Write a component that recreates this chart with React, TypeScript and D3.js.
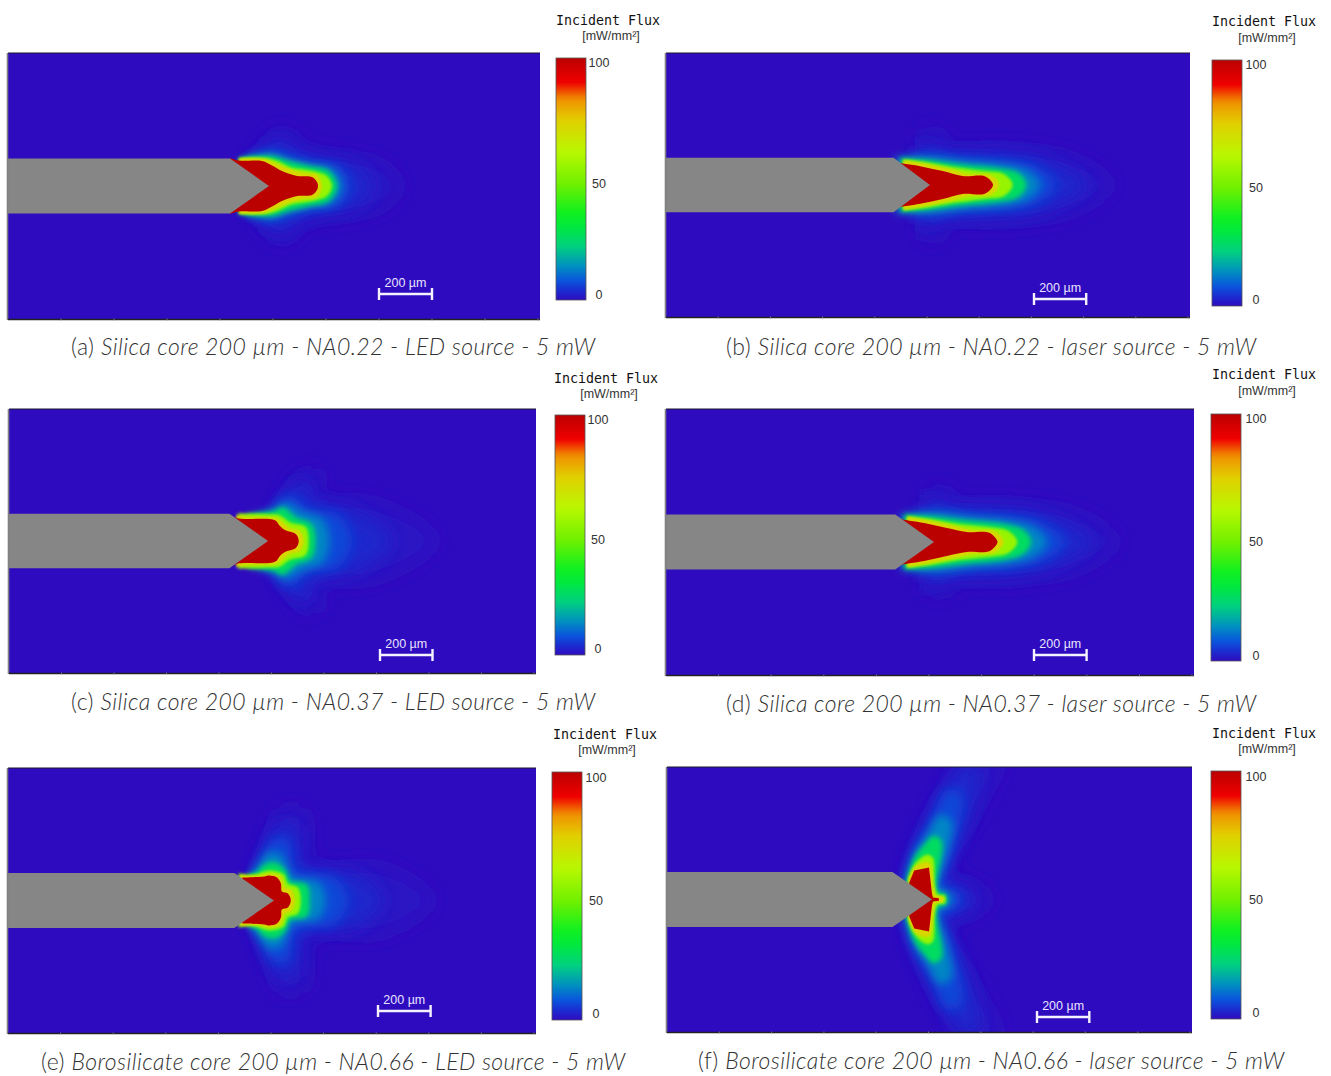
import React from "react";
import * as d3 from "d3";

type Pt = [number, number];

// Flux scale of the colour bar (mW/mm²)
const fluxStops = [0, 4, 8, 14, 22, 30, 36, 48, 61, 74, 83, 90, 100];
const fluxColors = ["#2f0bbf", "#1a2dd0", "#0a55dc", "#0090c0", "#00d080", "#00e840", "#10f020", "#70f000", "#b8f800", "#e0d000", "#f09000", "#f00000", "#bb0000"];
const tickValues = [0, 50, 100];
const fluxLevels = [1.2, 3, 6.5, 13, 26, 55, 72, 100];
const levelBlur = [11, 9, 6, 4, 2.5, 1.8, 1.2, 0.5];

// Iso-flux half outlines, [cells from fibre tip, cells from axis]; order follows fluxLevels
const contoursA: Pt[][] = [
  [[-18, 28], [0, 48], [8, 56], [18, 57], [34, 39], [81, 30], [118, 19], [131, 0]],
  [[-18, 28], [0, 40], [4, 46], [14, 46], [31, 32], [64, 25], [91, 19], [104, 0]],
  [[-19, 28], [3, 35], [18, 30], [44, 24], [71, 19], [81, 0]],
  [[-25, 28], [3, 32], [18, 27], [41, 21], [63, 17], [73, 0]],
  [[-30, 28], [3, 30], [18, 25.5], [41, 20], [60, 15], [68, 0]],
  [[-30, 28], [-2, 28], [11, 24], [21, 19], [44, 15], [58, 10], [63, 0]],
  [[-30, 27.5], [-5, 27], [8, 22], [20, 17], [35, 13], [48, 11], [53, 0]],
  [[-39, 28], [-30, 25.5], [-7, 25], [3, 20.5], [13, 15], [28, 10], [43, 9], [48, 4], [49, 0]],
];
const contoursB: Pt[][] = [
  [[-8, 55], [5, 58], [20, 38], [60, 38], [110, 35], [150, 25], [185, 0]],
  [[-12, 38], [0, 42], [10, 34], [50, 33], [100, 30], [130, 20], [160, 0]],
  [[-20, 30], [5, 30], [40, 27], [85, 24], [110, 18], [128, 0]],
  [[-35, 28], [0, 28], [35, 24], [78, 20], [100, 14], [112, 0]],
  [[-30, 27], [0, 25], [30, 21], [70, 17], [90, 12], [98, 0]],
  [[-27, 26], [-3, 23], [25, 18], [55, 14], [75, 11], [84, 0]],
  [[-27, 25], [-3, 21], [20, 16], [40, 11], [60, 10.5], [68, 5], [70, 0]],
  [[-37, 27], [-35, 24], [-10, 19], [13, 14], [33, 9], [55, 9], [62, 4], [64, 0]],
];
const contoursC: Pt[][] = [
  [[10, 38], [35, 70], [50, 72], [55, 45], [110, 38], [170, 0]],
  [[8, 35], [25, 55], [38, 62], [45, 40], [90, 30], [125, 0]],
  [[5, 32], [15, 44], [25, 45], [40, 32], [70, 27], [85, 0]],
  [[-10, 28], [8, 33], [18, 38], [35, 29], [55, 22], [62, 0]],
  [[-20, 28], [5, 30], [15, 34], [28, 24], [44, 17], [48, 0]],
  [[-30, 28], [0, 27], [12, 26], [22, 19], [38, 14], [41, 0]],
  [[-32, 27], [-27, 25], [-5, 24], [9, 23], [17, 17], [22, 13], [32, 10], [36, 0]],
  [[-39, 27], [-31, 23], [7, 21], [12, 15], [17, 11], [28, 7], [31, 0]],
];
const contoursD: Pt[][] = [
  [[-8, 52], [8, 55], [22, 40], [60, 40], [110, 36], [150, 26], [185, 0]],
  [[-10, 40], [5, 42], [12, 36], [50, 34], [100, 30], [130, 20], [160, 0]],
  [[-18, 30], [8, 31], [40, 28], [85, 25], [112, 18], [132, 0]],
  [[-33, 28], [0, 29], [35, 25], [78, 21], [102, 14], [114, 0]],
  [[-30, 27], [0, 25.5], [30, 22], [70, 18], [90, 12], [98, 0]],
  [[-27, 26], [-3, 23], [25, 18], [55, 15], [75, 11], [84, 0]],
  [[-27, 25], [-3, 21], [20, 16], [40, 12], [60, 11], [68, 5], [70, 0]],
  [[-39, 27], [-36, 24], [-10, 19], [13, 14], [33, 10], [55, 9.5], [62, 4], [64, 0]],
];
const contoursE: Pt[][] = [
  [[-20, 30], [-5, 65], [5, 90], [30, 90], [40, 38], [110, 33], [160, 0]],
  [[-20, 28], [-8, 55], [2, 75], [22, 75], [30, 32], [80, 28], [110, 0]],
  [[-20, 28], [-12, 42], [-3, 60], [14, 60], [22, 30], [60, 24], [75, 0]],
  [[-22, 28], [-14, 38], [-6, 48], [8, 45], [18, 24], [45, 18], [52, 0]],
  [[-25, 27], [-18, 28], [-10, 36], [2, 38], [12, 30], [16, 20], [33, 16], [36, 0]],
  [[-36, 27], [-20, 26], [-5, 30], [10, 26], [14, 17], [24, 13], [27, 0]],
  [[-34, 25], [-15, 25], [-3, 27], [7, 24], [11, 13], [17, 11], [21, 0]],
  [[-32, 23], [-10, 24], [-5, 25], [3, 23], [7, 17], [8, 9], [14, 7], [17, 0]],
];
const contoursF: Pt[][] = [
  [[-28, 20], [-16, 55], [10, 110], [45, 145], [70, 145], [45, 85], [14, 25], [45, 15], [60, 0]],
  [[-27, 20], [-17, 52], [5, 95], [30, 135], [48, 130], [32, 65], [12, 20], [35, 12], [42, 0]],
  [[-27, 18], [-18, 48], [0, 80], [15, 110], [30, 105], [21, 50], [9, 15], [25, 8], [30, 0]],
  [[-26, 18], [-18, 45], [-5, 65], [8, 85], [20, 78], [12, 35], [6, 12], [18, 6], [20, 0]],
  [[-26, 18], [-18, 42], [-8, 55], [2, 64], [10, 58], [5, 20], [5, 9], [14, 5], [15, 0]],
  [[-24, 20], [-18, 35], [-5, 45], [1, 42], [3, 15], [6, 5], [13, 4], [14, 0]],
  [[-24, 20], [-17, 33], [-3, 37], [2, 10], [4, 4], [10, 3], [12, 0]],
  [[-23, 17], [-18, 29], [-3, 32], [0, 6], [1, 2], [7, 1.3], [7, 0]],
];

const panelContours = [contoursA, contoursB, contoursC, contoursD, contoursE, contoursF];
const panelTips = [261, 268, 261.5, 270, 268, 268.5];
const panelShoulders = [39, 37, 39, 39, 40, 40];
const fibreHalfWidth = 27.5;
const scaleBarCells = 53;
const captionLabels = ["(a)", "(b)", "(c)", "(d)", "(e)", "(f)"];
const captionTexts = [
  "Silica core 200 µm - NA0.22 - LED source - 5 mW",
  "Silica core 200 µm - NA0.22 - laser source - 5 mW",
  "Silica core 200 µm - NA0.37 - LED source - 5 mW",
  "Silica core 200 µm - NA0.37 - laser source - 5 mW",
  "Borosilicate core 200 µm - NA0.66 - LED source - 5 mW",
  "Borosilicate core 200 µm - NA0.66 - laser source - 5 mW",
];

// Layout (pixels)
const layout = [
  { x0: 8, x1: 540, y0: 53, y1: 319, bar: [556, 586, 58, 300], title: [608, 25], unit: [611, 40], ticks: [294, 183, 62], tickX: 599, sb: [379, 294], cap: [333, 355, 595] },
  { x0: 666, x1: 1190, y0: 53, y1: 317, bar: [1212, 1242, 60, 306], title: [1264, 26], unit: [1267, 42], ticks: [299, 187, 64], tickX: 1256, sb: [1034, 299], cap: [991, 355, 1256] },
  { x0: 9, x1: 536, y0: 409, y1: 673, bar: [555, 585, 415, 655], title: [606, 383], unit: [609, 398], ticks: [648, 539, 419], tickX: 598, sb: [380, 655], cap: [333, 710, 595] },
  { x0: 666, x1: 1194, y0: 409, y1: 675, bar: [1211, 1241, 414, 661], title: [1264, 379], unit: [1267, 395], ticks: [655, 541, 418], tickX: 1256, sb: [1034, 655], cap: [991, 712, 1256] },
  { x0: 8, x1: 536, y0: 768, y1: 1033, bar: [552, 582, 772, 1020], title: [605, 739], unit: [607, 754], ticks: [1013, 900, 777], tickX: 596, sb: [378, 1011], cap: [333, 1070, 625] },
  { x0: 667, x1: 1192, y0: 767, y1: 1032, bar: [1211, 1241, 771, 1019], title: [1264, 738], unit: [1267, 753], ticks: [1012, 899, 776], tickX: 1256, sb: [1037, 1017], cap: [991, 1069, 1284] },
];
const captionStarts = [71, 726, 71, 726, 41, 698];

const fluxColor = d3.scaleLinear<string>().domain(fluxStops).range(fluxColors).interpolate(d3.interpolateRgb);

function Panel({ i }: { i: number }) {
  const L = layout[i];
  const x = d3.scaleLinear().domain([0, 532]).range([L.x0, L.x1]);
  const y = d3.scaleLinear().domain([-133, 133]).range([L.y1, L.y0]);
  const tip = panelTips[i];
  const shoulder = panelShoulders[i];
  const line = d3.line<Pt>().x((d) => x(tip + d[0])).y((d) => y(d[1]));
  const smooth = d3.line<Pt>().x((d) => x(tip + d[0])).y((d) => y(d[1])).curve(d3.curveCatmullRom.alpha(0.5));
  const mirrored = (pts: Pt[]): Pt[] => [...pts, ...pts.slice(0, -1).reverse().map(([a, b]) => [a, -b] as Pt)];
  const fibre: Pt[] = [
    [-tip - 2, fibreHalfWidth], [-shoulder, fibreHalfWidth], [0, 0], [-shoulder, -fibreHalfWidth], [-tip - 2, -fibreHalfWidth],
  ];
  const [bx0, bx1, by0, by1] = L.bar;
  const tickY = d3.scaleLinear().domain(tickValues).range(L.ticks);
  const sbLen = x(scaleBarCells) - x(0);
  return (
    <g>
      <clipPath id={`clip${i}`}><rect x={L.x0} y={L.y0} width={L.x1 - L.x0} height={L.y1 - L.y0} /></clipPath>
      <rect x={L.x0} y={L.y0} width={L.x1 - L.x0} height={L.y1 - L.y0} fill={fluxColor(0)} />
      <g clipPath={`url(#clip${i})`}>
        {panelContours[i].map((pts, k) => (
          <path
            key={k}
            d={(k === 7 && i === 5 ? line : smooth)(mirrored(pts)) + "Z"}
            fill={fluxColor(fluxLevels[k])}
            filter={`url(#blur${k})`}
          />
        ))}
        <path d={line(fibre) + "Z"} fill="#868686" />
      </g>
      <line x1={L.x0 - 0.5} x2={L.x0 - 0.5} y1={L.y0} y2={L.y1 + 1} stroke="#808080" strokeWidth={1.6} />
      <line x1={L.x0} x2={L.x1} y1={L.y0} y2={L.y0} stroke="#1a1a2a" strokeWidth={1.2} />
      <line x1={L.x0} x2={L.x1} y1={L.y1 + 0.5} y2={L.y1 + 0.5} stroke="#222" strokeWidth={1.4} />
      {d3.range(scaleBarCells, 532, scaleBarCells).map((c) => (
        <line key={c} x1={x(c)} x2={x(c)} y1={L.y1 - 0.5} y2={L.y1 + 1.5} stroke="#888" strokeWidth={0.8} />
      ))}
      {/* scale bar */}
      <g stroke="#f4f2ff" strokeWidth={2.4}>
        <line x1={L.sb[0]} x2={L.sb[0] + sbLen} y1={L.sb[1]} y2={L.sb[1]} />
        <line x1={L.sb[0]} x2={L.sb[0]} y1={L.sb[1] - 6} y2={L.sb[1] + 6} />
        <line x1={L.sb[0] + sbLen} x2={L.sb[0] + sbLen} y1={L.sb[1] - 6} y2={L.sb[1] + 6} />
      </g>
      <text x={L.sb[0] + sbLen / 2} y={L.sb[1] - 7} textAnchor="middle" fontFamily="'Liberation Sans'" fontSize={12.5} fill="#e8e4ff">200 µm</text>
      {/* colour bar */}
      <rect x={bx0} y={by0} width={bx1 - bx0} height={by1 - by0} fill={`url(#fluxGrad)`} stroke="#555" strokeWidth={0.8} />
      {tickValues.map((t) => (
        <text key={t} x={L.tickX} y={tickY(t)} dy="0.36em" textAnchor="middle" fontFamily="'Liberation Sans'" fontSize={12.5} fill="#333">{t}</text>
      ))}
      <text x={L.title[0]} y={L.title[1]} textAnchor="middle" fontFamily="'DejaVu Sans Mono'" fontSize={13.3} fill="#111">Incident Flux</text>
      <text x={L.unit[0]} y={L.unit[1]} textAnchor="middle" fontFamily="'Liberation Sans'" fontSize={12.5} fill="#333">[mW/mm²]</text>
      {/* caption */}
      <text x={captionStarts[i]} y={L.cap[1]} fontFamily="Lato" fontWeight={300} fontSize={23} fill="#333" textLength={L.cap[2] - captionStarts[i]} lengthAdjust="spacing">
        <tspan>{captionLabels[i]} </tspan>
        <tspan fontStyle="italic">{captionTexts[i]}</tspan>
      </text>
    </g>
  );
}

export default function App() {
  const gradStops = d3.range(0, 101, 2);
  return (
    <svg width={1331} height={1076} style={{ position: "absolute", left: 0, top: 0, background: "#fff" }}>
      <defs>
        <linearGradient id="fluxGrad" x1="0" x2="0" y1="1" y2="0">
          {gradStops.map((s) => <stop key={s} offset={`${s}%`} stopColor={fluxColor(s)} />)}
        </linearGradient>
        {levelBlur.map((b, k) => (
          <filter key={k} id={`blur${k}`} x="-40%" y="-40%" width="180%" height="180%">
            <feGaussianBlur stdDeviation={b} />
          </filter>
        ))}
      </defs>
      {layout.map((_, i) => <Panel key={i} i={i} />)}
    </svg>
  );
}
